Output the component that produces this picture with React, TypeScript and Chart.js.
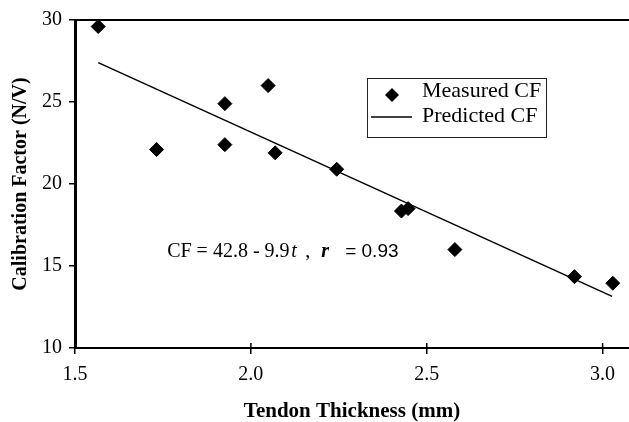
import React, { useEffect, useRef } from 'react';
import { Chart, registerables } from 'chart.js';

Chart.register(...registerables);

// Measured calibration factor vs tendon thickness
const measuredThickness = [1.566, 1.732, 1.926, 1.926, 2.049, 2.069, 2.244, 2.428, 2.447, 2.58, 2.92, 3.029];
const measuredCF = [29.6, 22.1, 24.9, 22.4, 26.0, 21.9, 20.9, 18.35, 18.5, 16.0, 14.35, 13.95];

// Predicted (fitted) line end points
const predictedThickness = [1.566, 3.027];
const predictedCF = [27.4, 13.15];

const seriesLabels = ['Measured CF', 'Predicted CF'];
const xTitle = 'Tendon Thickness (mm)';
const yTitle = 'Calibration Factor (N/V)';
const equationParts = ['CF = 42.8 - 9.9', 't', ',', 'r', '= 0.93'];

const SERIF = '"Liberation Serif", "Times New Roman", serif';
const SANS = '"Liberation Sans", Arial, sans-serif';

export default function App() {
  const ref = useRef<HTMLCanvasElement | null>(null);

  useEffect(() => {
    const overlay = {
      id: 'overlay',
      afterDraw(chart: any) {
        const { ctx, chartArea, scales } = chart;
        const xs = scales.x;
        const ys = scales.y;
        ctx.save();
        // top frame line
        ctx.strokeStyle = '#000';
        ctx.lineWidth = 2;
        ctx.beginPath();
        ctx.moveTo(chartArea.left, chartArea.top);
        ctx.lineTo(chartArea.right, chartArea.top);
        ctx.stroke();
        // inward x tick marks
        ctx.lineWidth = 1.5;
        xs.ticks.forEach((t: any) => {
          const px = xs.getPixelForValue(t.value);
          ctx.beginPath();
          ctx.moveTo(px, chartArea.bottom);
          ctx.lineTo(px, chartArea.bottom - 5);
          ctx.stroke();
        });

        // legend box
        const bx = 367, by = 78, bw = 179, bh = 59;
        ctx.lineWidth = 1;
        ctx.strokeStyle = '#222';
        ctx.strokeRect(bx + 0.5, by + 0.5, bw, bh);
        // diamond
        const cx = 392, cy = 95, r = 7;
        ctx.fillStyle = '#000';
        ctx.beginPath();
        ctx.moveTo(cx, cy - r);
        ctx.lineTo(cx + r, cy);
        ctx.lineTo(cx, cy + r);
        ctx.lineTo(cx - r, cy);
        ctx.closePath();
        ctx.fill();
        // line sample
        ctx.lineWidth = 1.5;
        ctx.strokeStyle = '#000';
        ctx.beginPath();
        ctx.moveTo(371, 117);
        ctx.lineTo(412, 117);
        ctx.stroke();
        ctx.font = `22px ${SERIF}`;
        ctx.textBaseline = 'alphabetic';
        ctx.textAlign = 'left';
        ctx.fillText(chart.data.datasets[0].label, 422, 97);
        ctx.fillText(chart.data.datasets[1].label, 422, 122);

        // equation annotation
        const x0 = xs.getPixelForValue(1.762);
        const y0 = ys.getPixelForValue(15.55);
        ctx.font = `20px ${SERIF}`;
        ctx.fillText(equationParts[0], x0, y0);
        ctx.font = `italic 20px ${SERIF}`;
        ctx.fillText(equationParts[1], x0 + 124, y0);
        ctx.font = `20px ${SERIF}`;
        ctx.fillText(equationParts[2], x0 + 138, y0);
        ctx.font = `italic bold 20px ${SERIF}`;
        ctx.fillText(equationParts[3], x0 + 154, y0);
        ctx.font = `19px ${SANS}`;
        ctx.fillText(equationParts[4], x0 + 178, y0);
        ctx.restore();
      },
    };

    const chart = new Chart(ref.current as HTMLCanvasElement, {
      type: 'scatter',
      data: {
        datasets: [
          {
            label: seriesLabels[0],
            data: measuredThickness.map((t, i) => ({ x: t, y: measuredCF[i] })),
            pointStyle: 'rectRot',
            pointRadius: 7,
            pointHoverRadius: 7,
            backgroundColor: '#000',
            borderColor: '#000',
            borderWidth: 1,
            showLine: false,
            clip: false,
          } as any,
          {
            type: 'line',
            label: seriesLabels[1],
            data: predictedThickness.map((t, i) => ({ x: t, y: predictedCF[i] })),
            borderColor: '#000',
            backgroundColor: '#000',
            borderWidth: 1.5,
            pointRadius: 0,
            fill: false,
            showLine: true,
          } as any,
        ],
      },
      options: {
        animation: false,
        responsive: true,
        maintainAspectRatio: false,
        layout: { autoPadding: false, padding: { top: 20, left: 0, right: 0, bottom: 0 } },
        plugins: {
          legend: { display: false },
          tooltip: { enabled: false },
          title: { display: false },
        },
        scales: {
          x: {
            type: 'linear',
            min: 1.5,
            max: 3.075,
            border: { display: true, color: '#000', width: 2 },
            grid: { drawOnChartArea: false, drawTicks: true, tickLength: 6, color: '#000', lineWidth: 1.5 },
            ticks: {
              stepSize: 0.5,
              includeBounds: false,
              padding: 9,
              color: '#000',
              font: { family: SERIF, size: 20 },
              callback: (v: any) => Number(v).toFixed(1),
            },
            title: {
              display: true,
              text: xTitle,
              color: '#000',
              font: { family: SERIF, size: 21, weight: 'bold', lineHeight: 1 },
              padding: { top: 0, bottom: 0 },
            },
            afterFit: (s: any) => { s.height = 74; s.paddingLeft = 0; s.paddingRight = 0; },
          },
          y: {
            type: 'linear',
            min: 10,
            max: 30,
            border: { display: true, color: '#000', width: 3 },
            grid: { drawOnChartArea: false, drawTicks: true, tickLength: 6, color: '#000', lineWidth: 1.5 },
            ticks: {
              stepSize: 5,
              padding: 7,
              color: '#000',
              font: { family: SERIF, size: 20 },
            },
            title: {
              display: true,
              text: yTitle,
              color: '#000',
              font: { family: SERIF, size: 20, weight: 'bold', lineHeight: 1 },
              padding: { top: 11, bottom: 0 },
            },
            afterFit: (s: any) => { s.width = 75; s.paddingTop = 0; s.paddingBottom = 0; },
          },
        },
      } as any,
      plugins: [overlay],
    });
    return () => chart.destroy();
  }, []);

  return (
    <div style={{ position: 'fixed', left: 0, top: 0, width: 629, height: 422, background: '#fff' }}>
      <canvas ref={ref} />
    </div>
  );
}
